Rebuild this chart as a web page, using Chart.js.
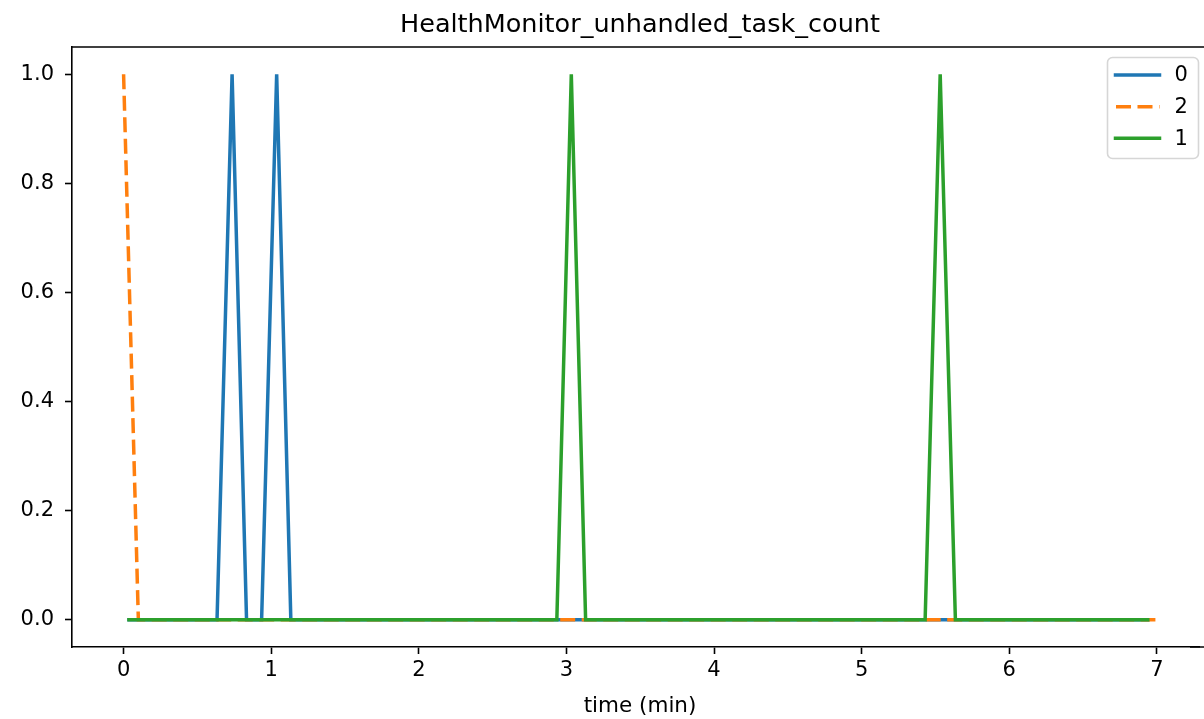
<!DOCTYPE html>
<html>
<head>
<meta charset="utf-8">
<script src="https://cdn.jsdelivr.net/npm/chart.js@4.4.1/dist/chart.umd.min.js"></script>
<style>
  html, body { margin: 0; padding: 0; background: #fff; overflow: hidden; width: 1204px; height: 719px; }
  #wrap { position: absolute; left: 0; top: 0; width: 1204px; height: 719px; overflow: hidden; }
  canvas { display: block; }
</style>
</head>
<body>
<div id="wrap"><canvas id="c" width="1300" height="719"></canvas></div>
<script>
// ---- data ----
const chartTitle = 'HealthMonitor_unhandled_task_count';
const xAxisTitle = 'time (min)';
const seriesNames = ['0', '2', '1'];
const seriesColors = ['#1f77b4', '#ff7f0e', '#2ca02c'];

const time0 = [0.025, 0.633, 0.735, 0.833, 0.935, 1.037, 1.133, 6.95];
const value0 = [0, 0, 1, 0, 0, 1, 0, 0];

const time2 = [0.0, 0.1, 6.99];
const value2 = [1, 0, 0];

const time1 = [0.025, 2.935, 3.033, 3.13, 5.43, 5.532, 5.635, 6.95];
const value1 = [0, 0, 1, 0, 0, 1, 0, 0];

const xTickValues = [0, 1, 2, 3, 4, 5, 6, 7];
const yTickValues = [0, 0.2, 0.4, 0.6, 0.8, 1.0];

const xMin = -0.3495, xMax = 7.3395;
const yMin = -0.05, yMax = 1.05;

function pts(t, v) { return t.map((x, i) => ({ x: x, y: v[i] })); }

const FONT = "'DejaVu Sans', sans-serif";

const framePlugin = {
  id: 'frame',
  afterDraw(chart) {
    const ctx = chart.ctx;
    const a = chart.chartArea;
    ctx.save();
    // clear anything right of the legend (the reference is cropped before the right spine)
    ctx.fillStyle = '#fff';
    ctx.fillRect(1200, 40, 100, 630);
    // top spine
    ctx.strokeStyle = '#000';
    ctx.lineWidth = 1.6;
    ctx.beginPath();
    ctx.moveTo(a.left - 0.8, a.top);
    ctx.lineTo(1300, a.top);
    ctx.stroke();
    // bottom spine tail
    ctx.beginPath();
    ctx.moveTo(1190, a.bottom);
    ctx.lineTo(1300, a.bottom);
    ctx.stroke();
    // title
    ctx.fillStyle = '#000';
    ctx.textAlign = 'center';
    ctx.textBaseline = 'alphabetic';
    ctx.font = '25.5px ' + FONT;
    ctx.fillText(chartTitle, 640, 32);
    // x axis title
    ctx.font = '21.5px ' + FONT;
    ctx.fillText(xAxisTitle, 640, 712);
    // legend
    const bx = 1107.5, by = 57.5, bw = 91, bh = 101, r = 5;
    ctx.globalAlpha = 0.8;
    ctx.fillStyle = '#fff';
    ctx.beginPath();
    ctx.roundRect(bx, by, bw, bh, r);
    ctx.fill();
    ctx.globalAlpha = 1;
    ctx.strokeStyle = '#d6d6d6';
    ctx.lineWidth = 1.6;
    ctx.stroke();
    const rows = [75, 106.7, 138.3];
    chart.data.datasets.forEach((ds, i) => {
      const y = rows[i];
      const dashed = ds.borderDash && ds.borderDash.length;
      ctx.strokeStyle = ds.borderColor;
      ctx.lineWidth = ds.borderWidth;
      ctx.setLineDash(ds.borderDash || []);
      ctx.lineCap = dashed ? 'butt' : 'square';
      ctx.beginPath();
      ctx.moveTo(dashed ? 1116 : 1115.5, y);
      ctx.lineTo(1159.5, y);
      ctx.stroke();
      ctx.setLineDash([]);
      ctx.fillStyle = '#000';
      ctx.textAlign = 'left';
      ctx.textBaseline = 'middle';
      ctx.font = '21px ' + FONT;
      ctx.fillText(ds.label, 1174.5, y + 1);
    });
    ctx.restore();
  }
};

const datasets = [
  { label: seriesNames[0], data: pts(time0, value0), borderColor: seriesColors[0], borderWidth: 3.5, order: 3 },
  { label: seriesNames[1], data: pts(time2, value2), borderColor: seriesColors[1], borderWidth: 3.5, borderDash: [15, 6.5], order: 2 },
  { label: seriesNames[2], data: pts(time1, value1), borderColor: seriesColors[2], borderWidth: 3.5, order: 1 }
].map(d => Object.assign({ pointRadius: 0, pointHoverRadius: 0, fill: false, tension: 0, borderJoinStyle: 'miter', borderCapStyle: 'butt' }, d));

new Chart(document.getElementById('c'), {
  type: 'line',
  data: { datasets: datasets },
  options: {
    responsive: false,
    animation: false,
    devicePixelRatio: 1,
    layout: { padding: { left: 0, top: 47, right: 93, bottom: 0 } },
    plugins: { legend: { display: false }, tooltip: { enabled: false }, title: { display: false } },
    scales: {
      x: {
        type: 'linear',
        min: xMin, max: xMax,
        afterBuildTicks(scale) { scale.ticks = xTickValues.map(v => ({ value: v })); },
        afterFit(scale) { scale.height = 72; },
        grid: { display: true, drawOnChartArea: false, drawTicks: true, tickLength: 7, tickWidth: 1.6, tickColor: '#000' },
        border: { display: true, color: '#000', width: 1.6 },
        ticks: { color: '#000', font: { family: FONT, size: 21 }, padding: 4, maxRotation: 0, autoSkip: false, callback: v => String(v) }
      },
      y: {
        type: 'linear',
        min: yMin, max: yMax,
        afterBuildTicks(scale) { scale.ticks = yTickValues.map(v => ({ value: v })); },
        afterFit(scale) { scale.width = 72; },
        grid: { display: true, drawOnChartArea: false, drawTicks: true, tickLength: 7, tickWidth: 1.6, tickColor: '#000' },
        border: { display: true, color: '#000', width: 1.6 },
        ticks: { color: '#000', font: { family: FONT, size: 21 }, padding: 11, autoSkip: false, callback: v => v.toFixed(1) }
      }
    }
  },
  plugins: [framePlugin]
});
</script>
</body>
</html>
